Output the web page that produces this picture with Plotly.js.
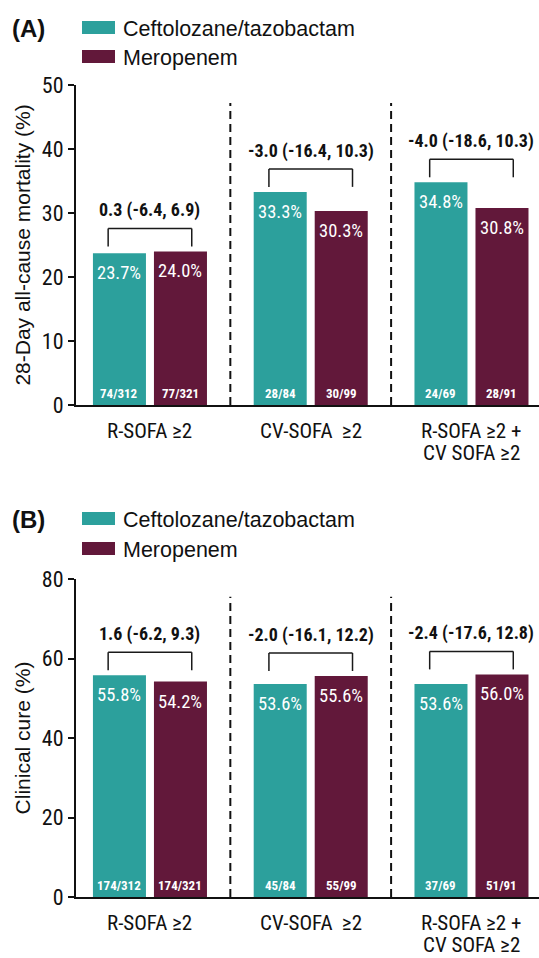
<!DOCTYPE html>
<html>
<head>
<meta charset="utf-8">
<script src="https://cdn.plot.ly/plotly-3.0.1.min.js"></script>
<style>html,body{margin:0;padding:0;background:#fff;}#chart{width:539px;height:958px;}</style>
</head>
<body>
<div id="chart"></div>
<script>
// ---- data ----
const categories = ['R-SOFA ≥2', 'CV-SOFA\u00a0 ≥2', 'R-SOFA ≥2 +<br>CV SOFA ≥2'];
const seriesNames = ['Ceftolozane/tazobactam', 'Meropenem'];
const mortalityCefto = [23.7, 33.3, 34.8];
const mortalityMero = [24.0, 30.3, 30.8];
const mortalityCeftoN = ['74/312', '28/84', '24/69'];
const mortalityMeroN = ['77/321', '30/99', '28/91'];
const mortalityDiff = ['0.3 (-6.4, 6.9)', '-3.0 (-16.4, 10.3)', '-4.0 (-18.6, 10.3)'];
const cureCefto = [55.8, 53.6, 53.6];
const cureMero = [54.2, 55.6, 56.0];
const cureCeftoN = ['174/312', '45/84', '37/69'];
const cureMeroN = ['174/321', '55/99', '51/91'];
const cureDiff = ['1.6 (-6.2, 9.3)', '-2.0 (-16.1, 12.2)', '-2.4 (-17.6, 12.8)'];

// ---- styles ----
const W = 539, H = 958;
const TEAL = '#2CA09C', MAROON = '#62183A';
const NARROW = "'Liberation Sans Narrow', 'Arial Narrow', 'Roboto Condensed', Arial, sans-serif";
const REG = "'Liberation Sans', Arial, sans-serif";
const px = x => x / W;
const py = y => 1 - y / H;
const BARGAP = 0.241, GROUPGAP = 0.131;
const OFF = (1 - BARGAP) / 4; // center offset of each bar in group
const xs = categories.map((c, i) => i);

const panels = [
  {xa: 'x', ya: 'y', cefto: mortalityCefto, mero: mortalityMero, cN: mortalityCeftoN, mN: mortalityMeroN, diff: mortalityDiff,
   label: '(A)', labelY: 29, legY: [21, 50], range: [0, 50], dtick: 10, title: '28-Day all-cause mortality (%)', top: 85, bottom: 405},
  {xa: 'x2', ya: 'y2', cefto: cureCefto, mero: cureMero, cN: cureCeftoN, mN: cureMeroN, diff: cureDiff,
   label: '(B)', labelY: 519, legY: [512, 542], range: [0, 80], dtick: 20, title: 'Clinical cure (%)', top: 579, bottom: 897}
];

const data = [];
const shapes = [];
const annotations = [];

panels.forEach((p, k) => {
  data.push({type: 'bar', x: xs, y: p.cefto, name: seriesNames[0], xaxis: p.xa, yaxis: p.ya,
             marker: {color: TEAL}, showlegend: false, hoverinfo: 'skip'});
  data.push({type: 'bar', x: xs, y: p.mero, name: seriesNames[1], xaxis: p.xa, yaxis: p.ya,
             marker: {color: MAROON}, showlegend: false, hoverinfo: 'skip'});

  xs.forEach(i => {
    [[p.cefto, p.cN, -OFF], [p.mero, p.mN, OFF]].forEach(([vals, ns, off]) => {
      annotations.push({xref: p.xa, yref: p.ya, x: i + off, y: vals[i], yanchor: 'top', yshift: -7,
        text: vals[i].toFixed(1) + '%', showarrow: false, font: {family: NARROW, size: 18.5, color: '#fff'}});
      annotations.push({xref: p.xa, yref: p.ya, x: i + off, y: 0, yanchor: 'bottom', yshift: 2,
        text: '<b>' + ns[i] + '</b>', showarrow: false, font: {family: NARROW, size: 13, color: '#fff'}});
    });
    const m = Math.max(p.cefto[i], p.mero[i]);
    const line = {color: '#1a1a1a', width: 1.5};
    const base = {type: 'line', xref: p.xa, yref: p.ya, ysizemode: 'pixel', yanchor: m, line: line};
    shapes.push(Object.assign({}, base, {x0: i - 0.26, x1: i - 0.26, y0: 5, y1: 23}));
    shapes.push(Object.assign({}, base, {x0: i + 0.26, x1: i + 0.26, y0: 5, y1: 23}));
    shapes.push(Object.assign({}, base, {x0: i - 0.26, x1: i + 0.26, y0: 23, y1: 23}));
    annotations.push({xref: p.xa, yref: p.ya, x: i, y: m, yanchor: 'middle', yshift: 41,
      text: '<b>' + p.diff[i] + '</b>', showarrow: false, font: {family: NARROW, size: 18, color: '#111'}});
    if (i < xs.length - 1) {
      shapes.push({type: 'line', xref: p.xa, yref: p.ya + ' domain', x0: i + 0.5, x1: i + 0.5, y0: 0, y1: 0.944,
        line: {color: '#111', width: 2, dash: '8px,5px'}});
    }
    // category labels (one annotation per line for tight spacing)
    categories[i].split('<br>').forEach((t, j) => {
      annotations.push({xref: p.xa, yref: p.ya, x: i, y: 0, yanchor: 'middle', yshift: -(26 + 22 * j),
        text: t, showarrow: false, borderpad: 0, font: {family: NARROW, size: 21, color: '#111'}});
    });
  });

  // panel label
  annotations.push({xref: 'paper', yref: 'paper', x: px(10), y: py(p.labelY), xanchor: 'left', yanchor: 'middle',
    text: '<b>' + p.label + '</b>', showarrow: false, font: {family: REG, size: 24, color: '#111'}});
  // legend
  [TEAL, MAROON].forEach((c, j) => {
    const y0 = p.legY[j];
    shapes.push({type: 'rect', xref: 'paper', yref: 'paper', x0: px(82), x1: px(115), y0: py(y0), y1: py(y0 + 13),
      fillcolor: c, line: {width: 0}});
    annotations.push({xref: 'paper', yref: 'paper', x: px(121), y: py(y0 + 8), xanchor: 'left', yanchor: 'middle',
      text: seriesNames[j], showarrow: false, font: {family: REG, size: 21.5, color: '#111'}});
  });
});

const axisX = (anchor) => ({
  anchor: anchor, domain: [px(76), 1], range: [-0.46, 2.42], tickvals: xs, showticklabels: false,
  showline: true, linecolor: '#111', linewidth: 2, ticks: '', showgrid: false, zeroline: false, fixedrange: true
});
const axisY = (p, anchor) => ({
  anchor: anchor, domain: [py(p.bottom), py(p.top)], range: p.range, dtick: p.dtick,
  showline: true, linecolor: '#111', linewidth: 2, ticks: 'outside', ticklen: 6, tickwidth: 2, tickcolor: '#111',
  showgrid: false, zeroline: false, tickfont: {family: NARROW, size: 22, color: '#111'},
  title: {text: p.title, font: {family: REG, size: 21, color: '#111'}, standoff: 6}, fixedrange: true
});

const layout = {
  width: W, height: H, margin: {l: 0, r: 0, t: 0, b: 0}, paper_bgcolor: '#fff', plot_bgcolor: '#fff',
  barmode: 'group', bargap: BARGAP, bargroupgap: GROUPGAP, showlegend: false,
  xaxis: axisX('y'), yaxis: axisY(panels[0], 'x'),
  xaxis2: axisX('y2'), yaxis2: axisY(panels[1], 'x2'),
  shapes: shapes, annotations: annotations
};

Plotly.newPlot('chart', data, layout, {staticPlot: true, displayModeBar: false});
</script>
</body>
</html>
